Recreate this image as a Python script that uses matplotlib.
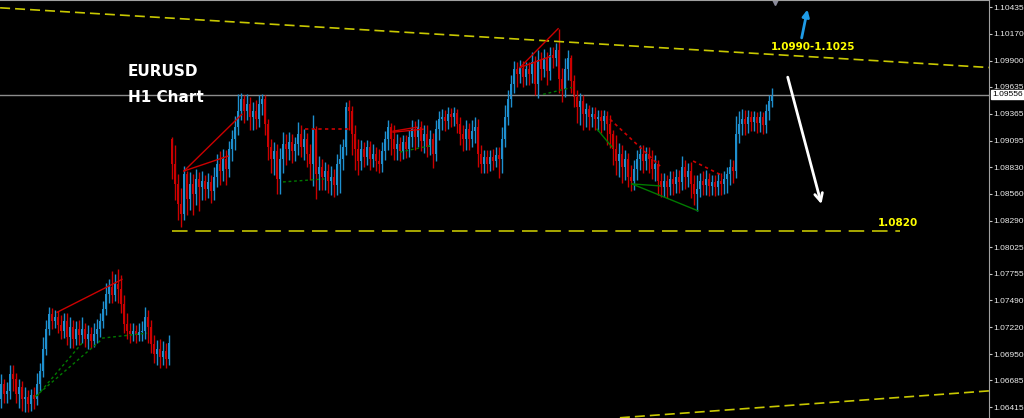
import numpy as np
import matplotlib
matplotlib.use("Agg")
import matplotlib.pyplot as plt
import matplotlib.transforms as mtransforms

# ==========================
# DATA (EURUSD H1 candles)
# ==========================
# first block of candles (bottom-left)
LEFT_OPEN = 1.0650
left_close = [1.0665, 1.0655, 1.0658, 1.0675, 1.0670, 1.0655, 1.0662, 1.0650, 1.0652, 1.0645,
              1.0654, 1.0650, 1.0665, 1.0678, 1.0700, 1.0720, 1.0735, 1.0728, 1.0732, 1.0724,
              1.0718, 1.0728, 1.0712, 1.0722, 1.0710, 1.0720, 1.0714, 1.0720, 1.0710, 1.0715,
              1.0708, 1.0715, 1.0720, 1.0728, 1.0740, 1.0755, 1.0762, 1.0754, 1.0765, 1.0760,
              1.0745, 1.0725, 1.0718, 1.0715, 1.0718, 1.0714, 1.0717, 1.0718, 1.0732, 1.0722,
              1.0705, 1.0695, 1.0700, 1.0692, 1.0698, 1.0690, 1.0706]
left_high = [1.0675, 1.0670, 1.0667, 1.0684, 1.0684, 1.0676, 1.0670, 1.0668, 1.0662, 1.0659,
             1.0660, 1.0662, 1.0676, 1.0686, 1.0712, 1.0729, 1.0742, 1.0741, 1.0739, 1.0738,
             1.0734, 1.0736, 1.0736, 1.0732, 1.0729, 1.0728, 1.0729, 1.0732, 1.0726, 1.0724,
             1.0722, 1.0726, 1.0730, 1.0736, 1.0748, 1.0766, 1.0770, 1.0778, 1.0775, 1.0780,
             1.0774, 1.0754, 1.0736, 1.0726, 1.0726, 1.0724, 1.0726, 1.0728, 1.0742, 1.0739,
             1.0729, 1.0714, 1.0709, 1.0710, 1.0708, 1.0706, 1.0714]
left_low = [1.0641, 1.0646, 1.0646, 1.0650, 1.0658, 1.0646, 1.0641, 1.0638, 1.0637, 1.0637,
            1.0638, 1.0640, 1.0644, 1.0658, 1.0672, 1.0694, 1.0714, 1.0720, 1.0721, 1.0716,
            1.0710, 1.0711, 1.0704, 1.0701, 1.0701, 1.0704, 1.0704, 1.0706, 1.0702, 1.0700,
            1.0701, 1.0702, 1.0706, 1.0712, 1.0721, 1.0734, 1.0746, 1.0746, 1.0748, 1.0746,
            1.0736, 1.0716, 1.0710, 1.0706, 1.0708, 1.0706, 1.0708, 1.0708, 1.0710, 1.0706,
            1.0696, 1.0686, 1.0684, 1.0681, 1.0684, 1.0681, 1.0684]

# main block of candles (after the gap up)
MAIN_OPEN = 1.0911
main_close = [1.0886, 1.0866, 1.0846, 1.0836, 1.0876, 1.0851, 1.0866, 1.0856, 1.0871, 1.0863,
              1.0869, 1.0861, 1.0868, 1.0859, 1.0873, 1.0886, 1.0879, 1.0891, 1.0881, 1.0901,
              1.0911, 1.0923, 1.0939, 1.0951, 1.0939, 1.0946, 1.0933, 1.0939, 1.0931, 1.0946,
              1.0951, 1.0926, 1.0903, 1.0891, 1.0899, 1.0871, 1.0891, 1.0906, 1.0901, 1.0908,
              1.0899, 1.0906, 1.0916, 1.0903, 1.0911, 1.0896, 1.0886, 1.0921, 1.0876, 1.0883,
              1.0873, 1.0879, 1.0869, 1.0873, 1.0865, 1.0886, 1.0891, 1.0903, 1.0943, 1.0939,
              1.0916, 1.0901, 1.0889, 1.0901, 1.0893, 1.0903, 1.0891, 1.0896, 1.0889, 1.0886,
              1.0899, 1.0911, 1.0923, 1.0911, 1.0901, 1.0906, 1.0899, 1.0908, 1.0901, 1.0913,
              1.0921, 1.0913, 1.0923, 1.0909, 1.0916, 1.0903, 1.0911, 1.0896, 1.0921, 1.0931,
              1.0933, 1.0929, 1.0936, 1.0933, 1.0937, 1.0926, 1.0916, 1.0911, 1.0921, 1.0911,
              1.0919, 1.0923, 1.0896, 1.0886, 1.0893, 1.0886, 1.0893, 1.0889, 1.0895, 1.0891,
              1.0911, 1.0933, 1.0951, 1.0966, 1.0981, 1.0976, 1.0983, 1.0973, 1.0981, 1.0976,
              1.0989, 1.0966, 1.0991, 1.0981, 1.0993, 1.0979, 1.0996, 1.0993, 1.1001, 1.0971,
              1.0961, 1.0981, 1.0993, 1.0969, 1.0953, 1.0943, 1.0949, 1.0936, 1.0941, 1.0933,
              1.0936, 1.0931, 1.0933, 1.0929, 1.0934, 1.0926, 1.0916, 1.0901, 1.0889, 1.0896,
              1.0883, 1.0891, 1.0873, 1.0869, 1.0881, 1.0891, 1.0896, 1.0889, 1.0896, 1.0891,
              1.0881, 1.0886, 1.0869, 1.0863, 1.0869, 1.0863, 1.0871, 1.0866, 1.0873, 1.0868,
              1.0883, 1.0873, 1.0879, 1.0866, 1.0856, 1.0861, 1.0869, 1.0865, 1.0871, 1.0864,
              1.0868, 1.0863, 1.0869, 1.0866, 1.0871, 1.0876, 1.0883, 1.0879, 1.0916, 1.0926,
              1.0931, 1.0926, 1.0933, 1.0928, 1.0933, 1.0927, 1.0933, 1.0925, 1.0939, 1.0949,
              1.09556]
main_high = [1.0913, 1.0905, 1.0876, 1.0862, 1.0884, 1.0879, 1.0878, 1.0876, 1.0881, 1.0878,
             1.0879, 1.0875, 1.0877, 1.0875, 1.0883, 1.0896, 1.0899, 1.0901, 1.0900, 1.0909,
             1.0920, 1.0934, 1.0956, 1.0957, 1.0955, 1.0956, 1.0953, 1.0948, 1.0950, 1.0955,
             1.0956, 1.0955, 1.0931, 1.0911, 1.0908, 1.0906, 1.0902, 1.0918, 1.0916, 1.0918,
             1.0916, 1.0913, 1.0928, 1.0925, 1.0921, 1.0917, 1.0906, 1.0935, 1.0924, 1.0894,
             1.0891, 1.0888, 1.0886, 1.0884, 1.0881, 1.0896, 1.0906, 1.0911, 1.0948, 1.0950,
             1.0944, 1.0925, 1.0911, 1.0910, 1.0908, 1.0910, 1.0909, 1.0906, 1.0903, 1.0901,
             1.0908, 1.0919, 1.0930, 1.0927, 1.0925, 1.0916, 1.0913, 1.0915, 1.0915, 1.0920,
             1.0930, 1.0929, 1.0931, 1.0929, 1.0925, 1.0925, 1.0920, 1.0917, 1.0930, 1.0939,
             1.0941, 1.0940, 1.0943, 1.0942, 1.0943, 1.0941, 1.0933, 1.0925, 1.0930, 1.0927,
             1.0930, 1.0933, 1.0931, 1.0905, 1.0900, 1.0900, 1.0900, 1.0901, 1.0903, 1.0903,
             1.0923, 1.0945, 1.0960, 1.0975, 1.0990, 1.0989, 1.0991, 1.0990, 1.0989, 1.0989,
             1.0999, 1.0995, 1.1001, 1.0999, 1.1002, 1.0999, 1.1004, 1.1004, 1.1008, 1.1022,
             1.0983, 1.0993, 1.1001, 1.0996, 1.0975, 1.0960, 1.0957, 1.0955, 1.0947, 1.0945,
             1.0943, 1.0943, 1.0940, 1.0940, 1.0940, 1.0939, 1.0935, 1.0920, 1.0915, 1.0907,
             1.0905, 1.0900, 1.0897, 1.0885, 1.0890, 1.0900, 1.0905, 1.0905, 1.0903, 1.0903,
             1.0900, 1.0895, 1.0890, 1.0877, 1.0877, 1.0875, 1.0879, 1.0879, 1.0881, 1.0880,
             1.0894, 1.0890, 1.0887, 1.0888, 1.0875, 1.0875, 1.0877, 1.0879, 1.0880, 1.0877,
             1.0875, 1.0875, 1.0877, 1.0877, 1.0879, 1.0883, 1.0891, 1.0890, 1.0934, 1.0939,
             1.0941, 1.0940, 1.0940, 1.0939, 1.0939, 1.0938, 1.0939, 1.0938, 1.0946, 1.0955,
             1.0962]
main_low = [1.0871, 1.0850, 1.0830, 1.0823, 1.0830, 1.0835, 1.0840, 1.0835, 1.0845, 1.0839,
            1.0850, 1.0850, 1.0852, 1.0847, 1.0850, 1.0863, 1.0865, 1.0869, 1.0865, 1.0873,
            1.0889, 1.0900, 1.0915, 1.0930, 1.0927, 1.0930, 1.0920, 1.0920, 1.0921, 1.0923,
            1.0935, 1.0915, 1.0890, 1.0877, 1.0875, 1.0856, 1.0856, 1.0877, 1.0885, 1.0890,
            1.0887, 1.0889, 1.0895, 1.0893, 1.0890, 1.0883, 1.0870, 1.0864, 1.0851, 1.0860,
            1.0860, 1.0860, 1.0857, 1.0855, 1.0853, 1.0855, 1.0857, 1.0880, 1.0895, 1.0920,
            1.0895, 1.0880, 1.0875, 1.0880, 1.0883, 1.0885, 1.0880, 1.0883, 1.0879, 1.0877,
            1.0878, 1.0890, 1.0900, 1.0895, 1.0890, 1.0890, 1.0889, 1.0891, 1.0892, 1.0893,
            1.0903, 1.0900, 1.0903, 1.0899, 1.0897, 1.0893, 1.0895, 1.0882, 1.0889, 1.0910,
            1.0920, 1.0919, 1.0921, 1.0923, 1.0924, 1.0917, 1.0905, 1.0899, 1.0900, 1.0900,
            1.0903, 1.0907, 1.0883, 1.0877, 1.0877, 1.0877, 1.0879, 1.0880, 1.0883, 1.0872,
            1.0877, 1.0903, 1.0925, 1.0943, 1.0957, 1.0963, 1.0967, 1.0963, 1.0965, 1.0965,
            1.0967, 1.0955, 1.0952, 1.0970, 1.0973, 1.0965, 1.0970, 1.0983, 1.0985, 1.0957,
            1.0948, 1.0953, 1.0970, 1.0957, 1.0943, 1.0927, 1.0925, 1.0920, 1.0923, 1.0920,
            1.0923, 1.0920, 1.0919, 1.0917, 1.0920, 1.0905, 1.0902, 1.0885, 1.0875, 1.0873,
            1.0867, 1.0870, 1.0863, 1.0859, 1.0860, 1.0870, 1.0880, 1.0877, 1.0880, 1.0877,
            1.0871, 1.0869, 1.0855, 1.0853, 1.0853, 1.0852, 1.0855, 1.0855, 1.0857, 1.0857,
            1.0860, 1.0861, 1.0863, 1.0852, 1.0845, 1.0839, 1.0853, 1.0855, 1.0855, 1.0854,
            1.0855, 1.0854, 1.0855, 1.0855, 1.0856, 1.0857, 1.0865, 1.0867, 1.0872, 1.0907,
            1.0915, 1.0915, 1.0917, 1.0919, 1.0919, 1.0917, 1.0918, 1.0916, 1.0917, 1.0930,
            1.0943]

price_ticks = [1.10435, 1.10170, 1.09900, 1.09635, 1.09365, 1.09095, 1.08830, 1.08560,
               1.08290, 1.08025, 1.07755, 1.07490, 1.07220, 1.06950, 1.06685, 1.06415]
last_price = 1.09556
target_price = 1.0819

# trend channel lines (bar index, price)
upper_channel_x = [-0.3, 329.3]
upper_channel_y = [1.1043, 1.0983]
lower_channel_x = [206.3, 329.3]
lower_channel_y = [1.0631, 1.0658]
target_x = [57, 299.7]

# harmonic pattern overlay lines: ((x0, x1), (y0, y1))
red_solid = [((61, 80.3), (1.0879, 1.0936)), ((61, 75.7), (1.0879, 1.0894)),
             ((130.7, 138.7), (1.0919, 1.0923)), ((130.7, 140.7), (1.0918, 1.0921)),
             ((173, 185.7), (1.0983, 1.1022)), ((173, 183), (1.0983, 1.0994)),
             ((18.7, 40.3), (1.0737, 1.0770))]
red_dashed = [((101.3, 117.3), (1.0921, 1.0921)), ((203, 219.7), (1.0931, 1.0884)),
              ((230.7, 240.7), (1.0889, 1.0874))]
green_dashed = [((94, 108), (1.0868, 1.0871)), ((133, 144), (1.0898, 1.0905)),
                ((180.7, 190.3), (1.0956, 1.0963)), ((11.3, 33.7), (1.0652, 1.0710)),
                ((12, 27.3), (1.0653, 1.0707)), ((33.7, 48.7), (1.0711, 1.0716))]
green_solid = [((198.7, 203.7), (1.0921, 1.0903)), ((210.3, 232.3), (1.0866, 1.0839)),
               ((210.3, 219.7), (1.0866, 1.0864))]

BULL = "#1e8fcf"
BEAR = "#cc0000"
YELLOW = "#c8c800"


def draw_candles(ax, x_start, first_open, closes, highs, lows):
    closes = np.array(closes)
    opens = np.concatenate([[first_open], closes[:-1]])
    highs = np.maximum(np.array(highs), np.maximum(opens, closes))
    lows = np.minimum(np.array(lows), np.minimum(opens, closes))
    x = x_start + np.arange(len(closes))
    colors = np.where(closes >= opens, BULL, BEAR)
    ax.vlines(x, lows, highs, colors=colors, linewidth=1.0)
    body = np.maximum(np.abs(closes - opens), 0.00004)
    ax.bar(x, body, bottom=np.minimum(opens, closes), width=0.85,
           color=colors, linewidth=0)


fig = plt.figure(figsize=(10.24, 4.18), dpi=100, facecolor="black")
ax = fig.add_axes([0, 0, 989 / 1024, 1])
ax.set_facecolor("black")

draw_candles(ax, 0, LEFT_OPEN, left_close, left_high, left_low)
draw_candles(ax, len(left_close), MAIN_OPEN, main_close, main_high, main_low)

# current price line
ax.axhline(last_price, color="#8c8c8c", linewidth=1, zorder=1)

# channel / target lines
ax.plot(upper_channel_x, upper_channel_y, color=YELLOW, linewidth=1.2, linestyle=(0, (6, 3)))
ax.plot(lower_channel_x, lower_channel_y, color=YELLOW, linewidth=1.2, linestyle=(0, (6, 3)))
ax.plot(target_x, [target_price, target_price], color="#a8a800", linewidth=1.4,
        linestyle=(0, (8, 4)))

for xs, ys in red_solid:
    ax.plot(xs, ys, color="#cc0000", linewidth=1)
for xs, ys in red_dashed:
    ax.plot(xs, ys, color="#cc0000", linewidth=1.2, linestyle=(0, (2, 2)))
for xs, ys in green_dashed:
    ax.plot(xs, ys, color="#007a00", linewidth=1, linestyle=(0, (2, 2)))
for xs, ys in green_solid:
    ax.plot(xs, ys, color="#007a00", linewidth=1)

# arrows
ax.annotate("", xy=(269, 1.1044), xytext=(266.7, 1.1010),
            arrowprops=dict(arrowstyle="-|>", color="#1f9be6", lw=2, mutation_scale=10))
ax.annotate("", xy=(273.7, 1.0843), xytext=(262, 1.0976),
            arrowprops=dict(arrowstyle="->", color="white", lw=2, mutation_scale=14))

# labels
ax.text(0.1294, 0.8278, "EURUSD", transform=ax.transAxes, color="white",
        fontsize=11, fontweight="bold", va="center", ha="left")
ax.text(0.1294, 0.7656, "H1 Chart", transform=ax.transAxes, color="white",
        fontsize=11, fontweight="bold", va="center", ha="left")
ax.text(0.7796, 0.8876, "1.0990-1.1025", transform=ax.transAxes, color="#ffff00",
        fontsize=7.5, fontweight="bold", va="center", ha="left")
ax.text(0.8878, 0.4665, "1.0820", transform=ax.transAxes, color="#ffff00",
        fontsize=7.5, fontweight="bold", va="center", ha="left")

# axes styling
ax.set_xlim(-0.33, 329.33)
ax.set_ylim(1.063075, 1.105084)
ax.set_xticks([])
ax.yaxis.tick_right()
ax.set_yticks(price_ticks)
ax.set_yticklabels([f"{p:.5f}" for p in price_ticks])
ax.tick_params(axis="y", colors="#c8c8c8", labelcolor="#ebebeb", length=2,
               width=0.8, pad=1, labelsize=6)
for lab in ax.get_yticklabels():
    lab.set_family("Liberation Sans")
for side in ["left", "bottom"]:
    ax.spines[side].set_visible(False)
ax.spines["right"].set_color("#a0a0a0")
ax.spines["top"].set_color("#a0a0a0")

trans = mtransforms.blended_transform_factory(ax.transAxes, ax.transData)
ax.text(1.0035, last_price, "1.09556", transform=trans, color="black", fontsize=6,
        family="Liberation Sans", va="center", ha="left", clip_on=False, zorder=5,
        bbox=dict(boxstyle="square,pad=0.12", facecolor="white", edgecolor="white"))

# small marker at top
ax.plot([258], [1.1049], marker="v", color="#8a8a9a", markersize=5, clip_on=False)

fig.savefig("out.png", dpi=100, facecolor="black")
